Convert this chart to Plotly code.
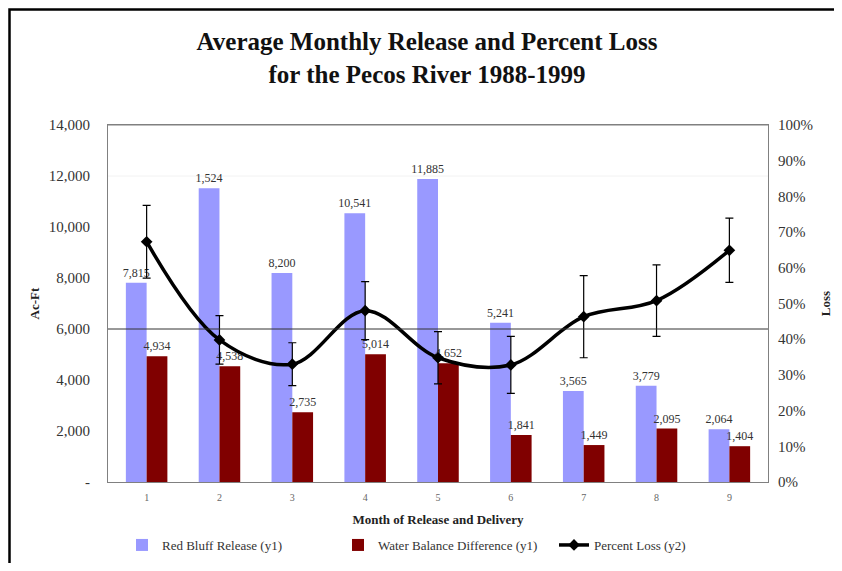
import plotly.graph_objects as go

months = ["1", "2", "3", "4", "5", "6", "7", "8", "9"]
red_bluff = [7815, 11524, 8200, 10541, 11885, 6241, 3565, 3779, 2064]
red_bluff_labels = ["7,815", "1,524", "8,200", "10,541", "11,885", "5,241", "3,565", "3,779", "2,064"]
water_balance = [4934, 4538, 2735, 5014, 4652, 1841, 1449, 2095, 1404]
water_balance_labels = ["4,934", "4,538", "2,735", "5,014", "4,652", "1,841", "1,449", "2,095", "1,404"]
percent_loss = [0.673, 0.398, 0.330, 0.480, 0.348, 0.328, 0.463, 0.508, 0.649]
loss_error = [0.102, 0.068, 0.060, 0.081, 0.073, 0.080, 0.115, 0.100, 0.090]
y1_ticks = [0, 2000, 4000, 6000, 8000, 10000, 12000, 14000]
y1_ticktext = ["-", "2,000", "4,000", "6,000", "8,000", "10,000", "12,000", "14,000"]
y2_ticks = [0, 0.1, 0.2, 0.3, 0.4, 0.5, 0.6, 0.7, 0.8, 0.9, 1.0]

serif = "Liberation Serif, Times New Roman, serif"

fig = go.Figure()
fig.add_trace(go.Bar(
    x=months, y=red_bluff, name="Red Bluff Release (y1)",
    marker=dict(color="#9999FF", line=dict(width=0)),
    text=red_bluff_labels, textposition="outside", cliponaxis=False, constraintext="none",
    textfont=dict(family=serif, size=12, color="#333333"),
))
fig.add_trace(go.Bar(
    x=months, y=water_balance, name="Water Balance Difference (y1)",
    marker=dict(color="#800000", line=dict(width=0)),
    text=water_balance_labels, textposition="outside", cliponaxis=False, constraintext="none",
    textfont=dict(family=serif, size=12, color="#333333"),
))
fig.add_trace(go.Scatter(
    x=months, y=percent_loss, name="Percent Loss (y2)", yaxis="y2",
    mode="lines+markers",
    line=dict(color="black", width=3.5, shape="spline", smoothing=1.0),
    marker=dict(symbol="diamond", size=9, color="black"),
    error_y=dict(type="data", array=loss_error, color="black", thickness=1.2, width=4),
))

# page body has an 8px margin: figure coords = screen coords - 8
OFF = 8
W, H = 826, 555
ml, mt = 108 - OFF, 125 - OFF
mr = W - (768 - OFF)
mb = H - (482 - OFF)
pw, ph = W - ml - mr, H - mt - mb

def px_x(x):
    return (x - OFF - ml) / pw

def px_y(y):
    return (H - mb - (y - OFF)) / ph

fig.update_layout(
    width=W, height=H,
    margin=dict(l=ml, r=mr, t=mt, b=mb, autoexpand=False),
    paper_bgcolor="white", plot_bgcolor="white",
    font=dict(family=serif, size=12, color="#333333"),
    barmode="group", bargap=0.43, bargroupgap=0.0,
    showlegend=True,
    title=dict(
        text="<b>Average Monthly Release and Percent Loss<br>for the Pecos River 1988-1999</b>",
        x=(427 - OFF) / W, xanchor="center", y=1 - (50 - OFF) / H, yanchor="top",
        font=dict(family=serif, size=25, color="#111111"),
    ),
    xaxis=dict(
        showline=True, linecolor="#808080", linewidth=1, mirror=True,
        ticks="", tickfont=dict(family=serif, size=10, color="#666666"),
        ticklabelstandoff=6,
        title=dict(text="<b>Month of Release and Delivery</b>",
                   font=dict(family=serif, size=13, color="#222222"), standoff=12),
    ),
    yaxis=dict(
        range=[0, 14000], tickvals=y1_ticks, ticktext=y1_ticktext,
        showgrid=False, zeroline=False,
        showline=True, linecolor="#808080", linewidth=1,
        ticks="", ticklabelstandoff=14,
        tickfont=dict(family=serif, size=15, color="#333333"),
        title=dict(text="<b>Ac-Ft</b>", font=dict(family=serif, size=13, color="#222222"), standoff=6),
    ),
    yaxis2=dict(
        range=[0, 1], tickvals=y2_ticks, tickformat=".0%",
        overlaying="y", side="right",
        showgrid=False, zeroline=False,
        showline=True, linecolor="#808080", linewidth=1,
        ticks="", ticklabelstandoff=6,
        tickfont=dict(family=serif, size=15, color="#333333"),
        title=dict(text="<b>Loss</b>", font=dict(family=serif, size=13, color="#222222"), standoff=8),
    ),
    legend=dict(
        orientation="h", x=px_x(122), xanchor="left", y=px_y(530), yanchor="top",
        font=dict(family=serif, size=13, color="#333333"),
        entrywidth=171, traceorder="normal",
        bgcolor="rgba(0,0,0,0)",
    ),
    shapes=[
        dict(type="line", xref="paper", yref="y", x0=0, x1=1, y0=6000, y1=6000,
             line=dict(color="#333333", width=1)),
        dict(type="line", xref="paper", yref="paper", x0=0, x1=1, y0=12000 / 14000, y1=12000 / 14000,
             line=dict(color="#F2F2F2", width=1), layer="below"),
        dict(type="line", xref="paper", yref="paper", x0=0, x1=1, y0=1, y1=1,
             line=dict(color="#808080", width=1)),
        dict(type="rect", xref="paper", yref="paper",
             x0=px_x(9.5), x1=px_x(W + 40), y0=px_y(H + 40), y1=px_y(9.5),
             line=dict(color="black", width=2.5)),
    ],
)

fig.write_html("out.html")
